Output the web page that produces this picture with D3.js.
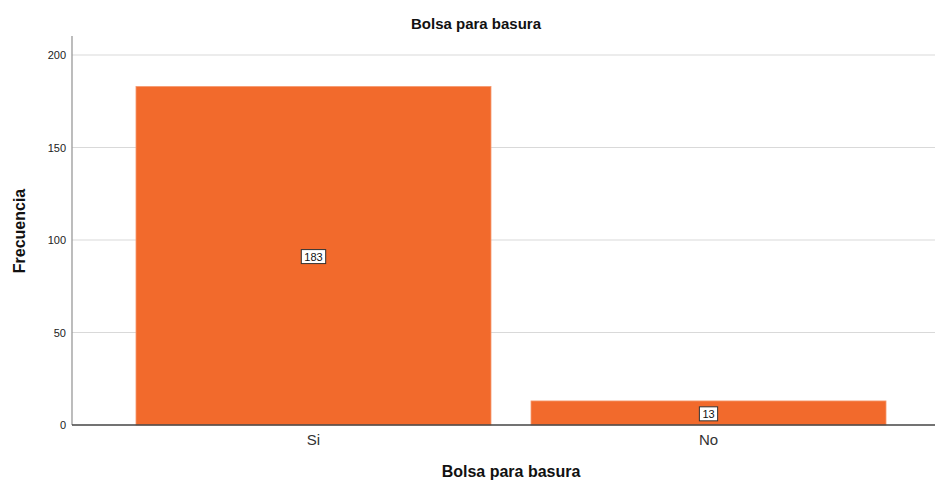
<!DOCTYPE html>
<html><head><meta charset="utf-8">
<script src="https://cdn.jsdelivr.net/npm/d3@7"></script>
<style>body{margin:0;background:#fff}svg{display:block;font-family:"Liberation Sans",Arial,sans-serif}</style>
</head><body>
<svg id="c" width="935" height="483"></svg>
<script>
const categories = ["Si", "No"];
const values = [183, 13];
const yTicks = [0, 50, 100, 150, 200];
const title = "Bolsa para basura";
const xTitle = "Bolsa para basura";
const yTitle = "Frecuencia";

const svg = d3.select("#c");
const x = d3.scaleBand().domain(categories).range([72, 950]).paddingInner(0.1013).paddingOuter(0.162);
const y = d3.scaleLinear().domain([0, 200]).range([425, 55]);

// gridlines
svg.append("g").selectAll("line").data(yTicks.filter(d => d > 0)).join("line")
  .attr("x1", 72).attr("x2", 935).attr("y1", d => y(d)).attr("y2", d => y(d))
  .attr("stroke", "#d9d9d9").attr("stroke-width", 1.2);

// bars
svg.append("g").selectAll("rect").data(values).join("rect")
  .attr("x", (d, i) => x(categories[i])).attr("width", x.bandwidth())
  .attr("y", d => y(d)).attr("height", d => y(0) - y(d))
  .attr("fill", "#f26a2c").attr("stroke", "#f59a70").attr("stroke-width", 0.8);

// y axis
const ya = svg.append("g").attr("transform", "translate(72,0)")
  .call(d3.axisLeft(y).tickValues(yTicks).tickSize(0).tickPadding(6));
ya.select(".domain").attr("stroke", "#999").attr("stroke-width", 1.3).attr("d", "M0,36V425");
ya.selectAll("text").attr("font-size", 11).attr("fill", "#222").attr("font-family", "Liberation Sans, Arial, sans-serif");

// x axis
const xa = svg.append("g").attr("transform", "translate(0,425)")
  .call(d3.axisBottom(x).tickSize(0).tickPadding(9));
xa.select(".domain").attr("stroke", "#444").attr("stroke-width", 1.3).attr("d", "M72,0H935");
xa.selectAll("text").attr("font-size", 15).attr("fill", "#333").attr("font-family", "Liberation Sans, Arial, sans-serif");

// value labels
const lab = svg.append("g").selectAll("g").data(values).join("g")
  .attr("transform", (d, i) => `translate(${x(categories[i]) + x.bandwidth() / 2},${(y(d) + y(0)) / 2 + 1})`);
lab.append("text").text(d => d).attr("text-anchor", "middle").attr("dy", "0.35em")
  .attr("font-size", 11).attr("fill", "#111")
  .each(function () {
    const b = this.getBBox();
    d3.select(this.parentNode).insert("rect", "text")
      .attr("x", b.x - 3).attr("y", b.y - 1).attr("width", b.width + 6).attr("height", b.height + 2)
      .attr("fill", "#fff").attr("stroke", "#333").attr("stroke-width", 1);
  });

// titles
svg.append("text").attr("x", 476).attr("y", 29).attr("text-anchor", "middle")
  .attr("font-size", 15).attr("font-weight", "bold").attr("fill", "#111").text(title);
svg.append("text").attr("x", 511).attr("y", 477).attr("text-anchor", "middle")
  .attr("font-size", 16).attr("font-weight", "bold").attr("fill", "#111").text(xTitle);
svg.append("text").attr("transform", "translate(25,231) rotate(-90)").attr("text-anchor", "middle")
  .attr("font-size", 16).attr("font-weight", "bold").attr("fill", "#111").text(yTitle);
</script>
</body></html>
